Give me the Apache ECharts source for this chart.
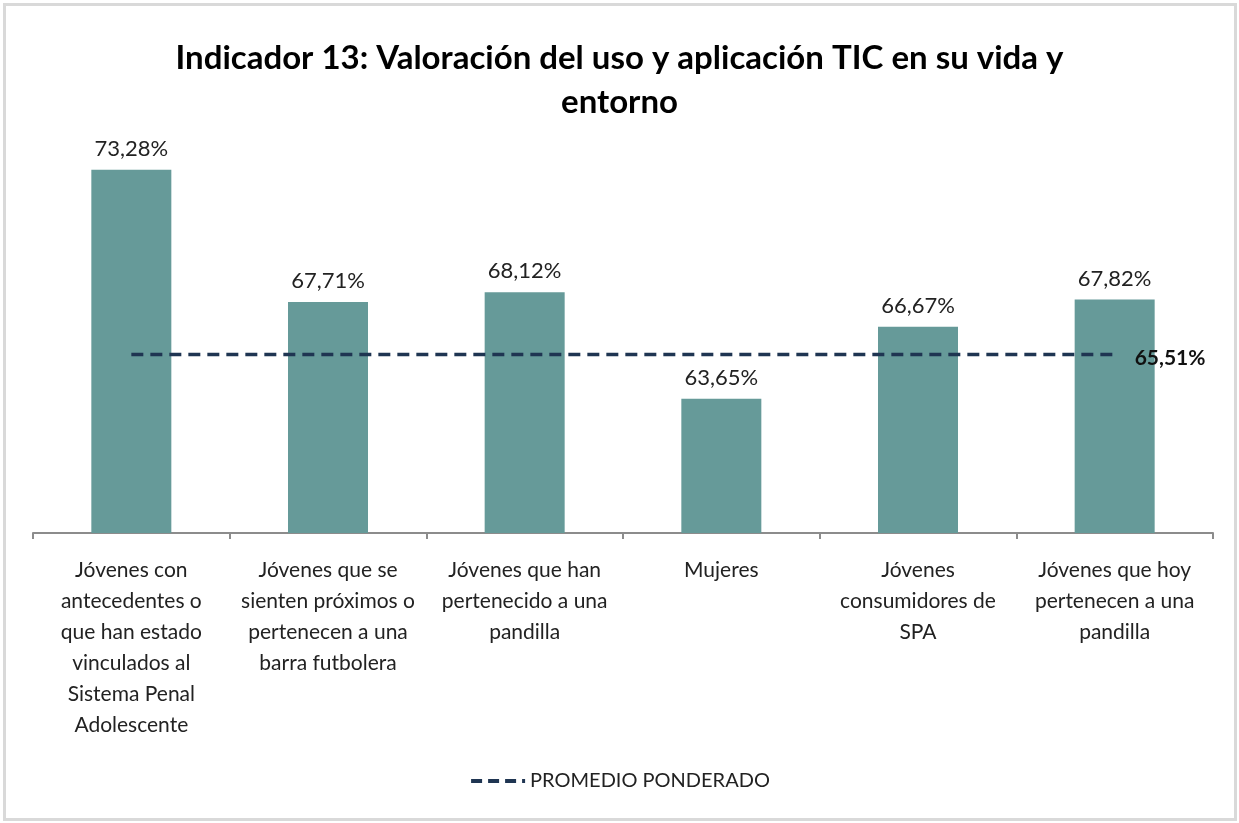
<!DOCTYPE html>
<html>
<head>
<meta charset="utf-8">
<script src="https://cdn.jsdelivr.net/npm/echarts@6/dist/echarts.min.js"></script>
<style>
html,body{margin:0;padding:0;background:#fff;}
#c{width:1239px;height:823px;position:relative;}
#frame{position:absolute;left:3px;top:3px;right:2px;bottom:2px;border:3px solid #d9d9d9;pointer-events:none;}
</style>
</head>
<body>
<div id="c"></div>
<div id="frame"></div>
<script>
const categories = [
  'Jóvenes con\nantecedentes o\nque han estado\nvinculados al\nSistema Penal\nAdolescente',
  'Jóvenes que se\nsienten próximos o\npertenecen a una\nbarra futbolera',
  'Jóvenes que han\npertenecido a una\npandilla',
  'Mujeres',
  'Jóvenes\nconsumidores de\nSPA',
  'Jóvenes que hoy\npertenecen a una\npandilla'
];
const values = [73.28, 67.71, 68.12, 63.65, 66.67, 67.82];
const promedio = 65.51;
const promedioSeries = [promedio, promedio, promedio, promedio, promedio, promedio];
const titleText = 'Indicador 13: Valoración del uso y aplicación TIC en su vida y\nentorno';
const legendName = 'PROMEDIO PONDERADO';

const fmt = v => v.toFixed(2).replace('.', ',') + '%';
const font = 'Lato, "Open Sans", sans-serif';

const chart = echarts.init(document.getElementById('c'));
chart.setOption({
  animation: false,
  title: {
    text: titleText,
    left: 'center',
    top: 31,
    textStyle: {fontFamily: font, fontSize: 33, fontWeight: 'bold', color: '#000', lineHeight: 44}
  },
  legend: {
    data: [{name: legendName, itemStyle: {opacity: 0}}],
    bottom: 27,
    left: 'center',
    itemWidth: 54,
    itemHeight: 10,
    itemGap: 10,
    lineStyle: {width: 4, type: [11, 6], color: '#1f3552'},
    textStyle: {fontFamily: font, fontSize: 20, color: '#222'}
  },
  grid: {left: 33, right: 26, top: 105, bottom: 290, containLabel: false},
  xAxis: {
    type: 'category',
    data: categories,
    axisLine: {lineStyle: {color: '#8c8c8c', width: 2}},
    axisTick: {show: true, alignWithLabel: false, length: 6, lineStyle: {color: '#8c8c8c', width: 2}},
    axisLabel: {interval: 0, fontFamily: font, fontSize: 21, color: '#222', lineHeight: 31, margin: 22}
  },
  yAxis: {type: 'value', min: 58, max: 76, show: false, splitLine: {show: false}},
  series: [
    {
      type: 'bar',
      data: values,
      barWidth: 80,
      itemStyle: {color: '#669a99'},
      label: {show: true, position: 'top', distance: 10, formatter: p => fmt(p.value),
        fontFamily: font, fontSize: 22, color: '#222'},
      silent: true
    },
    {
      name: legendName,
      type: 'line',
      data: promedioSeries,
      symbol: 'none',
      lineStyle: {color: '#1f3552', width: 3.5, type: [12, 7]},
      itemStyle: {color: '#1f3552'},
      endLabel: {show: true, distance: 20, offset: [0, 4], formatter: p => fmt(p.value),
        fontFamily: font, fontSize: 21, fontWeight: 'bold', color: '#111'},
      z: 5
    }
  ]
});
</script>
</body>
</html>
